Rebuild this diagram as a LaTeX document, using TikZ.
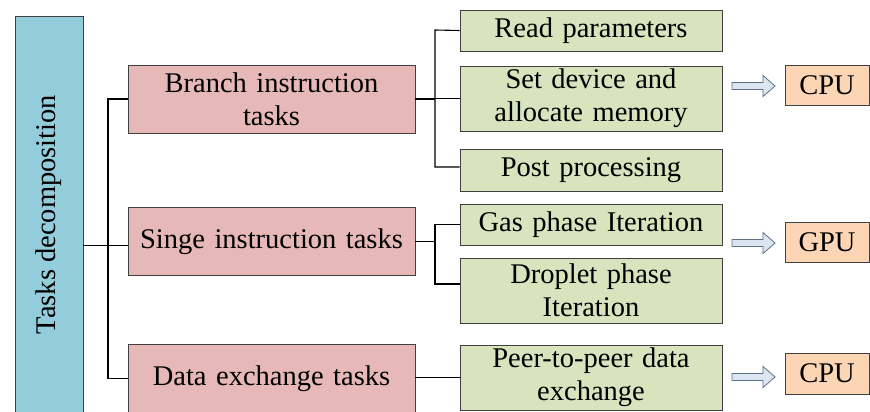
\documentclass[tikz,border=0pt]{standalone}
\usepackage{fontspec}
\setmainfont{Liberation Serif}
\newfontfamily\labelface{Liberation Serif}
\begin{document}
\begin{tikzpicture}[x=1pt,y=-1pt,
  every node/.style={font=\labelface\fontsize{28.5}{33}\selectfont, inner sep=0pt, align=center},
  boxbase/.style={draw=black!75, line width=0.8pt},
  rootbox/.style={boxbase, fill=rootblue, minimum width=68pt, minimum height=397pt},
  taskbox/.style={boxbase, fill=taskpink, minimum width=287pt, text width=280pt},
  subbox/.style={boxbase, fill=subgreen, minimum width=262pt, text width=256pt},
  devbox/.style={boxbase, fill=devorange, minimum width=84pt, minimum height=40pt},
  link/.style={draw=black, line width=1.1pt},
  hollowarrow/.style={draw=arrowedge, fill=arrowfill, line width=0.8pt, line join=miter}
]
\definecolor{rootblue}{HTML}{93CDDC}
\definecolor{taskpink}{HTML}{E6B9B8}
\definecolor{subgreen}{HTML}{D7E4BD}
\definecolor{devorange}{HTML}{FCD5B5}
\definecolor{arrowfill}{HTML}{DCE6F2}
\definecolor{arrowedge}{HTML}{5F6F85}

\useasboundingbox (0,0) rectangle (870,412);
\begin{scope}
\clip (0,0) rectangle (870,412);

% root of the decomposition
\node[rootbox] (root) at (49,214.5) {};
\node[rotate=90] (rootlabel) at (root.center) {Tasks decomposition};

% task categories
\node[taskbox, minimum height=68pt] (branch) at (271.5,99) {Branch instruction\\tasks};
\node[taskbox, minimum height=68pt] (single) at (271.5,241.7) {Singe instruction tasks};
\node[taskbox, minimum height=69pt] (exchange) at (271.5,378.5) {Data exchange tasks};

% sub-tasks
\node[subbox, minimum height=41pt] (read) at (591,30.5) {Read parameters};
\node[subbox, minimum height=65pt] (setdev) at (591,98.5) {Set device and\\allocate memory};
\node[subbox, minimum height=42pt] (post) at (591,170) {Post processing};
\node[subbox, minimum height=41pt] (gas) at (591,224.5) {Gas phase Iteration};
\node[subbox, minimum height=65pt] (droplet) at (591,290.5) {Droplet phase\\Iteration};
\node[subbox, minimum height=65pt] (peer) at (591,377.5) {Peer-to-peer data\\exchange};

% target devices
\node[devbox] (cpuA) at (827,85) {CPU};
\node[devbox] (gpu) at (827,242) {GPU};
\node[devbox, minimum height=41pt] (cpuB) at (827,373.5) {CPU};

% tree connectors
\coordinate (trunk) at (108,0);
\coordinate (fork) at (435,0);
\draw[link] ([yshift=-3.5pt]root.east |- single.west) -- ([yshift=-3.5pt]single.west);
\draw[link] (branch.west) -- (branch.west -| trunk) -- (exchange.west -| trunk) -- (exchange.west);

\draw[link] (branch.east) -- (branch.east -| fork);
\draw[link] (read.west) -- ([yshift=0.5pt]read.west -| fork) -- ([yshift=3pt]post.west -| fork) -- ([yshift=3pt]post.west);
\draw[link] (setdev.west -| fork) -- (setdev.west);

\draw[link] (single.east) -- (single.east -| fork);
\draw[link] (gas.west) -- (gas.west -| fork) -- ([yshift=6.5pt]droplet.west -| fork) -- ([yshift=6.5pt]droplet.west);

\draw[link] (exchange.east |- peer.west) -- (peer.west);

% hollow arrows towards the devices
\foreach \y/\name in {86/arrA, 243/arrB, 377/arrC}{
  \coordinate (\name) at (732,\y);
  \draw[hollowarrow] (\name) ++(0,-3.5) -- ++(31,0) -- ++(0,-7) -- ++(12,10.5)
    -- ++(-12,10.5) -- ++(0,-7) -- ++(-31,0) -- cycle;
}
\end{scope}
\end{tikzpicture}
\end{document}
